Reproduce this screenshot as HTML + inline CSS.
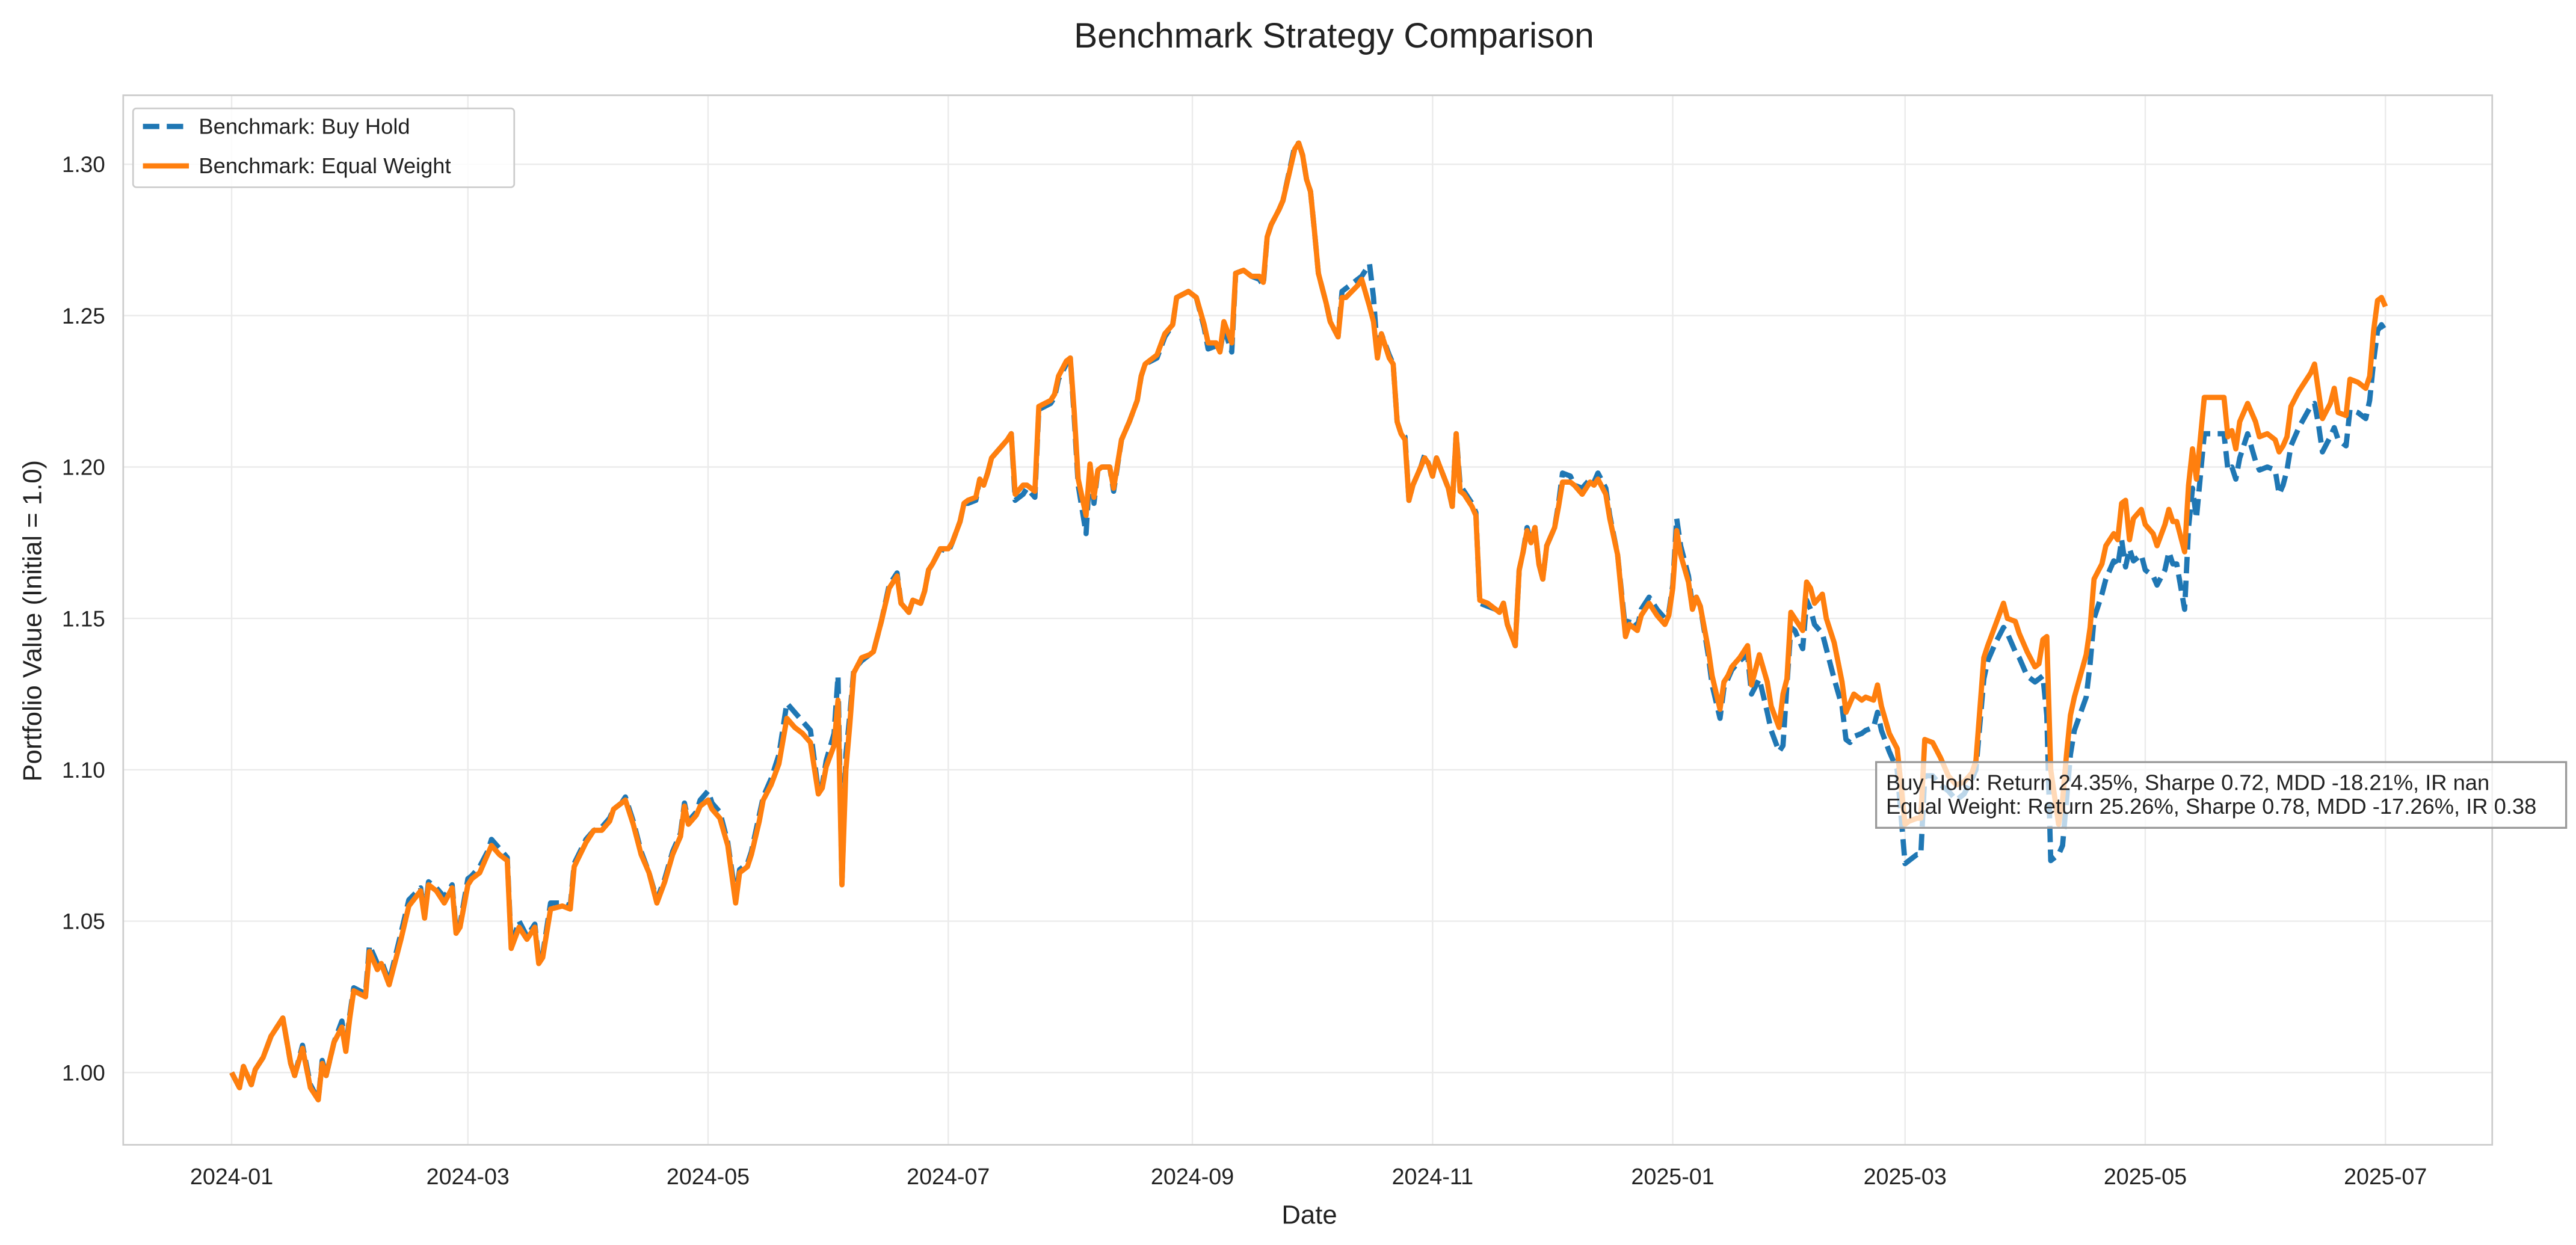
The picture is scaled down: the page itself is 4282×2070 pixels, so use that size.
<!DOCTYPE html>
<html><head><meta charset="utf-8">
<style>
html,body{margin:0;padding:0;background:#fff;}
svg{display:block;font-family:"Liberation Sans",Arial,sans-serif;}
</style></head>
<body>
<svg id="chart" width="4282" height="2070" viewBox="0 0 1568 758" xmlns="http://www.w3.org/2000/svg">
<rect x="0" y="0" width="1568" height="758" fill="#fff"/>
<text x="812" y="29" font-size="21.5" text-anchor="middle" fill="#222">Benchmark Strategy Comparison</text>
<rect x="75" y="58" width="1442" height="639" fill="#fff"/>
<g id="grid"></g>
<g id="series"></g>
<rect x="75" y="58" width="1442" height="639" fill="none" stroke="#cccccc" stroke-width="1"/>
<g id="yticks"></g>
<g id="xticks"></g>
<text x="797" y="745" font-size="16" text-anchor="middle" fill="#222">Date</text>
<text transform="translate(25,378) rotate(-90)" font-size="16" text-anchor="middle" fill="#222">Portfolio Value (Initial = 1.0)</text>
<g>
<rect x="81" y="66" width="232" height="48" rx="2" fill="#fff" fill-opacity="0.85" stroke="#cccccc" stroke-width="1"/>
<g>
<line x1="87" y1="77" x2="115" y2="77" stroke="#1f77b4" stroke-width="3.2" stroke-dasharray="10,4.5"/>
<text x="121" y="81.5" font-size="13.3" fill="#222">Benchmark: Buy Hold</text>
</g>
<g>
<line x1="87" y1="101" x2="115" y2="101" stroke="#ff7f0e" stroke-width="3.2"/>
<text x="121" y="105.5" font-size="13.3" fill="#222">Benchmark: Equal Weight</text>
</g>
</g>
<g>
<rect x="1142" y="464" width="420" height="40" fill="#fff" fill-opacity="0.7" stroke="#999" stroke-width="1.2"/>
<text x="1148" y="481" font-size="13.3" fill="#222">Buy Hold: Return 24.35%, Sharpe 0.72, MDD -18.21%, IR nan</text>
<text x="1148" y="495.5" font-size="13.3" fill="#222">Equal Weight: Return 25.26%, Sharpe 0.78, MDD -17.26%, IR 0.38</text>
</g>
</svg>
<script>
const dayOffsets=[0,2,3,5,6,8,10,13,15,16,18,20,22,23,24,26,28,29,30,31,34,35,37,38,40,43,45,48,49,50,52,54,56,57,58,60,61,63,65,66,68,70,71,73,75,77,78,79,81,84,86,87,90,92,94,96,97,99,100,102,104,106,108,110,112,114,115,116,118,119,121,122,124,126,128,129,131,132,134,135,137,139,141,143,145,147,149,150,151,153,154,155,156,157,158,160,162,163,165,167,169,170,172,173,175,176,177,178,180,182,183,185,186,187,189,190,191,192,193,195,197,198,199,201,202,204,205,208,209,210,212,213,214,215,217,218,219,220,221,223,224,226,228,230,231,232,235,237,239,240,243,245,247,248,250,251,252,254,255,257,259,261,262,263,264,266,267,270,271,272,273,274,275,276,278,279,281,282,283,286,287,289,290,291,292,294,295,296,297,298,299,300,302,303,304,305,306,309,310,311,312,313,315,316,317,319,321,322,323,324,326,327,328,329,330,331,332,333,334,336,337,338,340,341,343,345,346,347,349,350,352,354,355,357,358,360,362,364,365,366,367,368,370,371,372,373,375,376,378,379,380,381,383,385,386,388,390,391,393,394,395,396,397,399,400,401,402,404,405,407,409,410,411,412,414,415,417,418,419,421,423,425,426,428,429,430,432,434,436,438,440,442,443,444,445,446,448,450,451,453,454,456,458,459,460,461,462,464,465,466,467,468,471,472,473,475,476,478,479,480,481,482,483,485,486,488,489,491,492,493,494,496,497,498,499,501,506,507,508,509,510,512,514,515,517,519,520,521,522,523,525,528,529,530,531,533,534,535,537,538,540,542,543,544,545,546,547];
const equalWeight=[1.000,0.995,1.002,0.996,1.001,1.005,1.012,1.018,1.003,0.999,1.008,0.995,0.991,1.003,0.999,1.010,1.015,1.007,1.018,1.027,1.025,1.040,1.034,1.036,1.029,1.044,1.055,1.060,1.051,1.062,1.060,1.056,1.061,1.046,1.048,1.062,1.064,1.066,1.072,1.075,1.072,1.070,1.041,1.048,1.044,1.048,1.036,1.038,1.054,1.055,1.054,1.068,1.076,1.080,1.080,1.083,1.087,1.089,1.090,1.082,1.072,1.066,1.056,1.063,1.072,1.078,1.088,1.082,1.085,1.088,1.090,1.087,1.084,1.075,1.056,1.066,1.068,1.072,1.083,1.090,1.095,1.102,1.117,1.114,1.112,1.109,1.092,1.094,1.101,1.108,1.123,1.062,1.100,1.115,1.132,1.137,1.138,1.139,1.149,1.160,1.164,1.155,1.152,1.156,1.155,1.159,1.166,1.168,1.173,1.173,1.175,1.182,1.188,1.189,1.190,1.196,1.194,1.198,1.203,1.206,1.209,1.211,1.191,1.194,1.194,1.192,1.220,1.222,1.224,1.230,1.235,1.236,1.218,1.196,1.184,1.201,1.190,1.199,1.200,1.200,1.193,1.209,1.215,1.222,1.230,1.234,1.237,1.244,1.247,1.256,1.258,1.256,1.247,1.241,1.241,1.238,1.248,1.241,1.264,1.265,1.263,1.263,1.261,1.276,1.280,1.285,1.288,1.305,1.307,1.303,1.295,1.291,1.278,1.264,1.254,1.248,1.243,1.256,1.256,1.260,1.262,1.253,1.248,1.236,1.244,1.236,1.234,1.215,1.211,1.209,1.189,1.194,1.200,1.203,1.201,1.197,1.203,1.193,1.187,1.211,1.192,1.191,1.187,1.184,1.156,1.155,1.153,1.152,1.155,1.148,1.141,1.166,1.172,1.179,1.175,1.180,1.168,1.163,1.174,1.180,1.187,1.195,1.195,1.194,1.191,1.195,1.194,1.196,1.191,1.183,1.171,1.144,1.148,1.146,1.151,1.155,1.151,1.148,1.151,1.160,1.179,1.171,1.162,1.153,1.157,1.154,1.140,1.131,1.120,1.129,1.131,1.134,1.137,1.141,1.128,1.138,1.129,1.121,1.114,1.125,1.130,1.152,1.150,1.146,1.162,1.160,1.155,1.158,1.150,1.142,1.129,1.119,1.122,1.125,1.123,1.124,1.123,1.128,1.121,1.112,1.107,1.082,1.083,1.084,1.084,1.110,1.109,1.104,1.098,1.095,1.096,1.099,1.103,1.120,1.137,1.141,1.148,1.155,1.150,1.149,1.145,1.139,1.134,1.135,1.143,1.144,1.100,1.082,1.090,1.105,1.118,1.124,1.138,1.147,1.163,1.168,1.174,1.178,1.176,1.188,1.189,1.176,1.183,1.186,1.181,1.178,1.174,1.181,1.186,1.182,1.182,1.172,1.194,1.206,1.196,1.223,1.223,1.210,1.212,1.206,1.215,1.221,1.215,1.210,1.211,1.209,1.205,1.207,1.210,1.220,1.225,1.231,1.234,1.225,1.216,1.221,1.226,1.218,1.217,1.229,1.228,1.226,1.230,1.245,1.255,1.256,1.253];
const buyHold=[1.000,0.995,1.002,0.996,1.001,1.005,1.012,1.018,1.003,0.999,1.009,0.996,0.991,1.004,0.999,1.010,1.017,1.008,1.019,1.028,1.026,1.042,1.036,1.037,1.030,1.046,1.057,1.061,1.052,1.063,1.061,1.058,1.062,1.047,1.049,1.064,1.065,1.068,1.073,1.077,1.074,1.071,1.042,1.050,1.045,1.049,1.037,1.039,1.056,1.056,1.055,1.069,1.077,1.080,1.081,1.084,1.087,1.089,1.091,1.083,1.073,1.066,1.057,1.064,1.073,1.079,1.089,1.083,1.086,1.090,1.093,1.089,1.086,1.076,1.058,1.067,1.069,1.073,1.085,1.091,1.097,1.105,1.122,1.119,1.116,1.113,1.093,1.095,1.103,1.112,1.131,1.062,1.105,1.118,1.133,1.136,1.138,1.139,1.149,1.161,1.165,1.155,1.152,1.156,1.155,1.159,1.166,1.168,1.173,1.172,1.175,1.182,1.188,1.188,1.189,1.196,1.194,1.198,1.203,1.206,1.209,1.211,1.189,1.191,1.193,1.190,1.219,1.221,1.223,1.229,1.234,1.236,1.216,1.194,1.178,1.200,1.188,1.199,1.200,1.200,1.192,1.209,1.215,1.222,1.230,1.234,1.236,1.243,1.247,1.256,1.258,1.256,1.246,1.239,1.240,1.238,1.246,1.238,1.264,1.265,1.263,1.262,1.260,1.276,1.280,1.285,1.288,1.306,1.307,1.303,1.295,1.291,1.278,1.264,1.254,1.248,1.243,1.258,1.259,1.262,1.263,1.267,1.256,1.238,1.244,1.237,1.234,1.215,1.211,1.210,1.189,1.194,1.200,1.204,1.201,1.197,1.203,1.193,1.187,1.211,1.194,1.192,1.188,1.185,1.155,1.154,1.153,1.152,1.155,1.148,1.141,1.166,1.172,1.180,1.175,1.180,1.168,1.163,1.174,1.180,1.188,1.198,1.197,1.194,1.193,1.196,1.195,1.198,1.193,1.184,1.171,1.146,1.150,1.147,1.153,1.157,1.153,1.150,1.152,1.161,1.183,1.174,1.164,1.154,1.157,1.154,1.138,1.128,1.117,1.127,1.130,1.133,1.136,1.138,1.125,1.130,1.119,1.113,1.106,1.108,1.128,1.147,1.146,1.140,1.156,1.153,1.148,1.145,1.140,1.130,1.121,1.110,1.109,1.111,1.112,1.113,1.114,1.119,1.113,1.106,1.100,1.069,1.070,1.072,1.072,1.098,1.098,1.095,1.093,1.090,1.092,1.097,1.100,1.115,1.130,1.136,1.142,1.147,1.145,1.139,1.137,1.131,1.129,1.130,1.131,1.118,1.070,1.072,1.075,1.090,1.105,1.113,1.124,1.135,1.150,1.158,1.163,1.169,1.167,1.176,1.167,1.173,1.169,1.171,1.166,1.164,1.161,1.166,1.172,1.168,1.168,1.153,1.180,1.193,1.183,1.211,1.211,1.199,1.200,1.196,1.203,1.211,1.202,1.199,1.200,1.199,1.191,1.194,1.199,1.207,1.213,1.220,1.221,1.214,1.205,1.210,1.213,1.209,1.207,1.219,1.218,1.216,1.222,1.235,1.245,1.247,1.245];
const yTickValues=[1.00,1.05,1.10,1.15,1.20,1.25,1.30];
const xTickDays=[0,60,121,182,244,305,366,425,486,547];
const xTickLabels=["2024-01","2024-03","2024-05","2024-07","2024-09","2024-11","2025-01","2025-03","2025-05","2025-07"];

const NS="http://www.w3.org/2000/svg";
const X0=141,X1=1452,DMAX=547;
function xScale(d){return X0+d*(X1-X0)/DMAX;}
function yScale(v){return 653-(v-1.0)/0.30*553;}
function mk(tag,attrs,parent){const e=document.createElementNS(NS,tag);for(const k in attrs)e.setAttribute(k,attrs[k]);parent.appendChild(e);return e;}

const grid=document.getElementById('grid');
const yt=document.getElementById('yticks');
const xt=document.getElementById('xticks');
yTickValues.forEach(v=>{
  const y=yScale(v);
  const g=mk('line',{x1:75,x2:1517,y1:y,y2:y,stroke:'#ebebeb','stroke-width':0.9},grid);
  
  
  const t=mk('text',{x:64,y:y+4.8,'font-size':13.5,'text-anchor':'end',fill:'#222'},yt);
  t.textContent=v.toFixed(2);
  
  
});
xTickDays.forEach((d,i)=>{
  const x=xScale(d);
  const g=mk('line',{x1:x,x2:x,y1:58,y2:697,stroke:'#ebebeb','stroke-width':0.9},grid);
  
  
  const t=mk('text',{x:x,y:721,'font-size':13.8,'text-anchor':'middle',fill:'#222'},xt);
  t.textContent=xTickLabels[i];
  
  
});
function pathFor(vals){return vals.map((v,i)=>(i?'L':'M')+xScale(dayOffsets[i]).toFixed(2)+','+yScale(v).toFixed(2)).join('');}
const ser=document.getElementById('series');
const bh=mk('path',{d:pathFor(buyHold),fill:'none',stroke:'#1f77b4','stroke-width':3.2,'stroke-dasharray':'10,4.5','stroke-linejoin':'round'},ser);


const ew=mk('path',{d:pathFor(equalWeight),fill:'none',stroke:'#ff7f0e','stroke-width':3.2,'stroke-linejoin':'round'},ser);


</script>
</body></html>
